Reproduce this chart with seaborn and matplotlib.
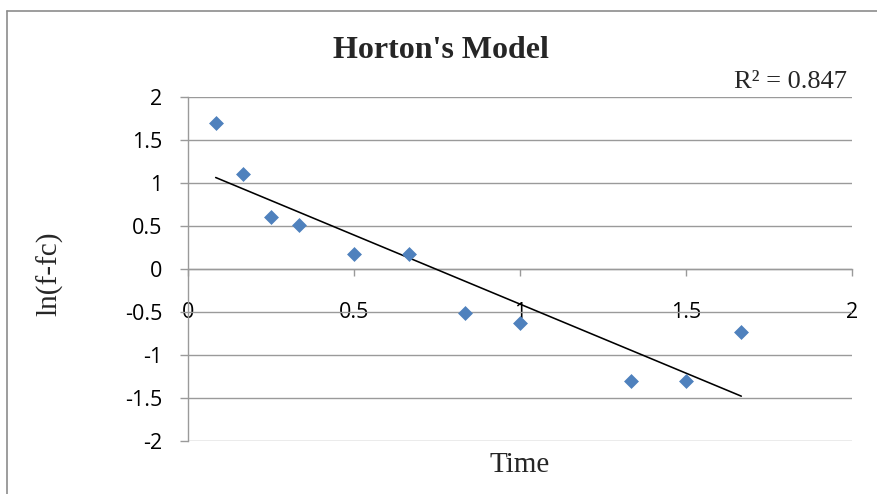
import matplotlib
matplotlib.use("Agg")
import matplotlib.pyplot as plt
from matplotlib.lines import Line2D
import seaborn as sns
import numpy as np
import pandas as pd

# ---- data ----
time_h = [1/12, 2/12, 3/12, 4/12, 6/12, 8/12, 10/12, 12/12, 16/12, 18/12, 20/12]
ln_f_fc = [1.70, 1.10, 0.60, 0.51, 0.175, 0.175, -0.51, -0.63, -1.31, -1.31, -0.74]
x_ticks = [0, 0.5, 1, 1.5, 2]
y_ticks = [-2, -1.5, -1, -0.5, 0, 0.5, 1, 1.5, 2]
x_tick_labels = ["0", "0.5", "1", "1.5", "2"]
y_tick_labels = ["-2", "-1.5", "-1", "-0.5", "0", "0.5", "1", "1.5", "2"]
title = "Horton's Model"
r2_text = "R² = 0.847"
x_label = "Time"
y_label = "ln(f-fc)"

df = pd.DataFrame({"Time": time_h, "ln": ln_f_fc})

sns.set_theme(style="white")
plt.rcParams["font.family"] = ["Open Sans", "DejaVu Sans"]

W, H = 877, 494
fig = plt.figure(figsize=(W / 100, H / 100), dpi=100)
L, R, T, B = 188, 852, 97, 440.5
ax = fig.add_axes([L / W, 1 - B / H, (R - L) / W, (B - T) / H])

GRID = "#9a9a9a"
BLUE = "#4F81BD"

sns.regplot(data=df, x="Time", y="ln", ax=ax, scatter=False, ci=None, truncate=True,
            line_kws=dict(color="black", lw=1.15, zorder=3))
sns.scatterplot(data=df, x="Time", y="ln", ax=ax, marker="D", s=50, color=BLUE,
                edgecolor=BLUE, linewidth=0.5, zorder=4)

ax.set_xlim(0, 2)
ax.set_ylim(-2, 2)
ax.set_xticks(x_ticks)
ax.set_xticklabels(x_tick_labels)
ax.set_yticks(y_ticks)
ax.set_yticklabels(y_tick_labels)

ax.yaxis.grid(True, color=GRID, lw=1.0)
ax.xaxis.grid(False)
ax.set_axisbelow(True)

for s in ["top", "right"]:
    ax.spines[s].set_visible(False)
ax.spines["left"].set_color(GRID)
ax.spines["left"].set_linewidth(1.0)
ax.spines["bottom"].set_position(("data", 0))
ax.spines["bottom"].set_color(GRID)
ax.spines["bottom"].set_linewidth(1.0)

ax.tick_params(axis="y", direction="out", length=5.8, width=1.0, color=GRID,
               pad=12.5, labelsize=15.5, labelcolor="black", left=True)
ax.tick_params(axis="x", direction="out", length=5.0, width=1.0, color=GRID,
               pad=19, labelsize=15.5, labelcolor="black", bottom=True)

serif = ["Liberation Serif", "DejaVu Serif"]
ax.set_xlabel(x_label, family=serif, fontsize=21, va="baseline")
ax.xaxis.set_label_coords(0.5, (B - 472) / (B - T))
ax.set_ylabel(y_label, family=serif, fontsize=21, va="center")
ax.yaxis.set_label_coords((50 - L) / (R - L), (B - 274) / (B - T))

ax.set_title(title, family=serif, fontsize=23, fontweight="bold",
             x=(441 - L) / (R - L), y=(B - 58.3) / (B - T), va="baseline", pad=0)
ax.text((846.7 - L) / (R - L), (B - 87.7) / (B - T), r2_text, transform=ax.transAxes,
        family=serif, fontsize=19, ha="right", va="baseline")

# outer chart border (left and top edges visible)
bx, by = 6.7 / W, 1 - 11 / H
fig.add_artist(Line2D([bx, 1.01], [by, by], transform=fig.transFigure, color="#8c8c8c", lw=1.2))
fig.add_artist(Line2D([bx, bx], [-0.01, by], transform=fig.transFigure, color="#8c8c8c", lw=1.2))

fig.savefig("out.png", dpi=100, facecolor="white")
